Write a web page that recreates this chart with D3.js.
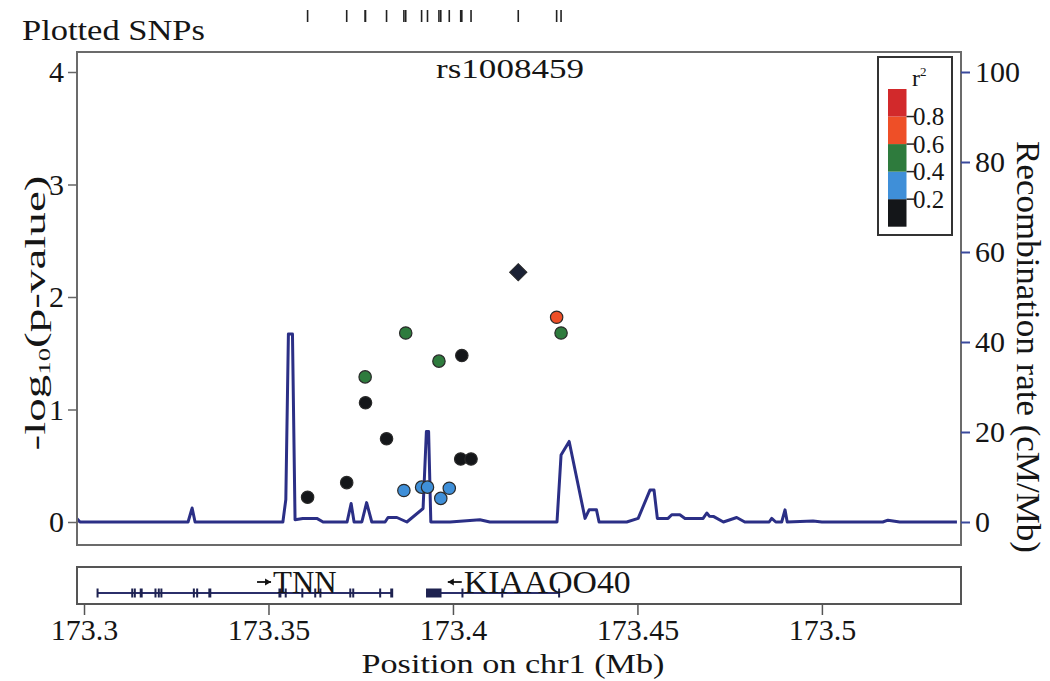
<!DOCTYPE html>
<html>
<head>
<meta charset="utf-8">
<script src="https://cdn.jsdelivr.net/npm/d3@7"></script>
<style>
  body { margin: 0; background: #fff; }
  svg { display: block; font-family: "Liberation Serif", "Times New Roman", serif; }
</style>
</head>
<body>
<svg id="chart" width="1050" height="681"></svg>
<script>
// ---- data ----
// SNPs around rs1008459 : position (Mb), -log10(p), r2 with the lead SNP
var snpPos  = [173.3606, 173.3712, 173.3762, 173.3763, 173.3820, 173.3867, 173.3872, 173.3915, 173.3931,
               173.3962, 173.3967, 173.3990, 173.4021, 173.4024, 173.4049, 173.4281, 173.4293];
var snpLogP = [0.22, 0.35, 1.29, 1.06, 0.74, 0.28, 1.68, 0.31, 0.31,
               1.43, 0.21, 0.30, 0.56, 1.48, 0.56, 1.82, 1.68];
var snpR2   = [0.1, 0.1, 0.5, 0.1, 0.1, 0.3, 0.5, 0.3, 0.3,
               0.5, 0.3, 0.3, 0.1, 0.1, 0.1, 0.7, 0.5];
var leadName = "rs1008459";
var leadPos = 173.4177;
var leadLogP = 2.22;

// recombination rate (cM/Mb)
var recPos = [173.2978, 173.2989, 173.3282, 173.3293, 173.3301, 173.3539, 173.3547, 173.3554, 173.3565,
              173.3572, 173.3593, 173.3631, 173.3648, 173.3713, 173.3724, 173.3732, 173.3753, 173.3766,
              173.3780, 173.3816, 173.3824, 173.3848, 173.3875, 173.3919, 173.3928, 173.3934, 173.3940,
              173.3992, 173.4073, 173.4100, 173.4282, 173.4293, 173.4315, 173.4358, 173.4369, 173.4389,
              173.4396, 173.4471, 173.4502, 173.4534, 173.4545, 173.4554, 173.4583, 173.4593, 173.4615,
              173.4629, 173.4678, 173.4688, 173.4695, 173.4707, 173.4733, 173.4769, 173.4791, 173.4857,
              173.4864, 173.4875, 173.4891, 173.4900, 173.4906, 173.4976, 173.5000, 173.5165, 173.5179,
              173.5211, 173.5366];
var recRate = [1.0, 0, 0, 3.1, 0, 0, 5, 41.8, 41.8,
               0.5, 0.8, 0.8, 0, 0, 4.1, 0, 0, 4.3,
               0, 0, 1.0, 1.0, 0, 3.0, 20.1, 20.1, 0,
               0, 0.5, 0, 0, 14.9, 17.9, 0.8, 2.7, 2.7,
               0, 0, 0.8, 7.1, 7.1, 0.8, 0.8, 1.6, 1.6,
               0.8, 0.8, 2.0, 1.3, 1.2, 0, 1.0, 0, 0,
               0.8, 0, 0, 2.7, 0, 0.2, 0, 0, 0.4,
               0, 0];

// genes
var geneNames  = ["TNN", "KIAAOO40"];
var geneStart  = [173.3036, 173.3927];
var geneEnd    = [173.3836, 173.4288];
var geneStrand = [1, -1];
var geneLabelAt = [173.3469, 173.3986];
var tnnExons = [[173.3034, 173.3038], [173.3128, 173.3131], [173.3135, 173.3138], [173.3151, 173.3159],
                [173.3191, 173.3194], [173.3200, 173.3203], [173.3207, 173.3210], [173.3295, 173.3298],
                [173.3304, 173.3307], [173.3337, 173.3345], [173.3527, 173.3535], [173.3544, 173.3547],
                [173.3589, 173.3592], [173.3624, 173.3628], [173.3638, 173.3642], [173.3719, 173.3723],
                [173.3727, 173.3730], [173.3800, 173.3804], [173.3830, 173.3838]];
var kiaaExons = [[173.3927, 173.3969], [173.4023, 173.4026], [173.4131, 173.4134], [173.4285, 173.4289]];
var geneExons = [tnnExons, kiaaExons];

// ticks
var xTicks = [173.3, 173.35, 173.4, 173.45, 173.5];
var yTicks = [0, 1, 2, 3, 4];
var recTicks = [0, 20, 40, 60, 80, 100];
var r2Breaks = [0.2, 0.4, 0.6, 0.8];
var r2Colors = ["#141619", "#3f8fd8", "#2e7b3d", "#ee4f27", "#d2292b"];

// ---- layout ----
var svg = d3.select("#chart");
var serif = '"Liberation Serif", "Times New Roman", serif';
var plot = {left: 77, right: 961, top: 52, bottom: 545};
var track = {top: 567, bottom: 604, lineY: 593};
var navy = "#2b2f86";

var x = d3.scaleLinear().domain([173.2981, 173.5377]).range([plot.left, plot.right]);
var y = d3.scaleLinear().domain([0, 4]).range([522, 72]);
var yRec = d3.scaleLinear().domain([0, 100]).range([522, 72]);
var color = d3.scaleThreshold().domain(r2Breaks).range(r2Colors);

svg.append("rect").attr("width", 1050).attr("height", 681).attr("fill", "#fff");

// stretch a text along its own direction to a given length
function stretch(text, len) {
  var w = text.node().getComputedTextLength();
  text.attr("transform", "scale(" + (len / w) + ",1)");
}

function label(tx, ty, rot, str, size, anchor, len) {
  var g = svg.append("g").attr("transform", "translate(" + tx + "," + ty + ") rotate(" + rot + ")");
  var t = g.append("text").attr("font-size", size).attr("font-family", serif)
    .attr("text-anchor", anchor).attr("fill", "#151515").text(str);
  if (len) stretch(t, len);
  return t;
}

// clip for the plot area
svg.append("clipPath").attr("id", "clip").append("rect")
  .attr("x", plot.left).attr("y", plot.top)
  .attr("width", plot.right - plot.left).attr("height", plot.bottom - plot.top);

// recombination line
var recData = recPos.map(function (p, i) { return {pos: p, rate: recRate[i]}; });
svg.append("path")
  .datum(recData)
  .attr("clip-path", "url(#clip)")
  .attr("fill", "none")
  .attr("stroke", navy)
  .attr("stroke-width", 3)
  .attr("stroke-linejoin", "round")
  .attr("d", d3.line().x(function (d) { return x(d.pos); }).y(function (d) { return yRec(d.rate); }));

// SNP points
var snps = snpPos.map(function (p, i) { return {pos: p, logp: snpLogP[i], r2: snpR2[i]}; });
svg.append("g").selectAll("circle")
  .data(snps)
  .enter().append("circle")
  .attr("cx", function (d) { return x(d.pos); })
  .attr("cy", function (d) { return y(d.logp); })
  .attr("r", 6.2)
  .attr("fill", function (d) { return color(d.r2); })
  .attr("stroke", "#2a2a2a")
  .attr("stroke-width", 1.2);

// lead SNP as a diamond
svg.append("path")
  .attr("d", d3.symbol().type(d3.symbolSquare).size(150)())
  .attr("transform", "translate(" + x(leadPos) + "," + y(leadLogP) + ") rotate(45)")
  .attr("fill", "#1b2134")
  .attr("stroke", "#2a2a2a")
  .attr("stroke-width", 1);

// frame
svg.append("rect")
  .attr("x", plot.left).attr("y", plot.top)
  .attr("width", plot.right - plot.left).attr("height", plot.bottom - plot.top)
  .attr("fill", "none").attr("stroke", "#6b6b6b").attr("stroke-width", 2);

// left axis
var gL = svg.append("g").attr("transform", "translate(" + plot.left + ",0)")
  .call(d3.axisLeft(y).tickValues(yTicks).tickSize(9).tickPadding(4).tickFormat(d3.format("d")));
gL.attr("font-size", 30).attr("font-family", serif);
gL.select(".domain").remove();
gL.selectAll("line").attr("stroke", "#666").attr("stroke-width", 1.5);
gL.selectAll("text").attr("fill", "#151515");

// right axis
var gR = svg.append("g").attr("transform", "translate(" + plot.right + ",0)")
  .call(d3.axisRight(yRec).tickValues(recTicks).tickSize(9).tickPadding(5));
gR.attr("font-size", 30).attr("font-family", serif);
gR.select(".domain").remove();
gR.selectAll("line").attr("stroke", "#3b4a9c").attr("stroke-width", 2);
gR.selectAll("text").attr("fill", "#151515");

// plotted SNPs rug
svg.append("g").selectAll("line")
  .data(snpPos.concat([leadPos]))
  .enter().append("line")
  .attr("x1", function (d) { return x(d); }).attr("x2", function (d) { return x(d); })
  .attr("y1", 10).attr("y2", 22)
  .attr("stroke", "#222").attr("stroke-width", 1.6);

label(22, 40, 0, "Plotted SNPs", 30, "start", 183);
label(510, 78, 0, leadName, 27, "middle", 148);

// y titles
var yt = svg.append("g").attr("transform", "translate(45,313) rotate(-90)")
  .append("text").attr("font-size", 30).attr("font-family", serif)
  .attr("text-anchor", "middle").attr("fill", "#151515");
yt.append("tspan").text("-log");
yt.append("tspan").attr("font-size", 17).attr("dy", 5).text("10");
yt.append("tspan").attr("dy", -5).text("(p-value)");
stretch(yt, 275);

label(1017, 347, 90, "Recombination rate (cM/Mb)", 34, "middle", 412);

// legend
var lg = svg.append("g");
lg.append("rect").attr("x", 878).attr("y", 57).attr("width", 74).attr("height", 178)
  .attr("fill", "#fff").attr("stroke", "#333").attr("stroke-width", 2);
var ly = d3.scaleLinear().domain([0, 1]).range([226.7, 89]);
var bins = [0].concat(r2Breaks);
lg.selectAll(".bin")
  .data(bins)
  .enter().append("rect")
  .attr("x", 888).attr("width", 18.5)
  .attr("y", function (d, i) { return ly(i < bins.length - 1 ? bins[i + 1] : 1); })
  .attr("height", function (d, i) { return ly(d) - ly(i < bins.length - 1 ? bins[i + 1] : 1); })
  .attr("fill", function (d, i) { return r2Colors[i]; });
lg.selectAll(".tk")
  .data(r2Breaks)
  .enter().append("line")
  .attr("x1", 906.5).attr("x2", 914)
  .attr("y1", function (d) { return ly(d); }).attr("y2", function (d) { return ly(d); })
  .attr("stroke", "#222").attr("stroke-width", 1.5);
lg.selectAll(".tl")
  .data(r2Breaks)
  .enter().append("text")
  .attr("x", 913).attr("y", function (d) { return ly(d); })
  .attr("dy", "0.35em")
  .attr("font-size", 25).attr("font-family", serif).attr("fill", "#151515")
  .text(function (d) { return d3.format(".1f")(d); });
var rt = lg.append("text").attr("x", 912).attr("y", 86)
  .attr("font-size", 24).attr("font-family", serif).attr("fill", "#151515");
rt.append("tspan").text("r");
rt.append("tspan").attr("font-size", 13).attr("dy", -10).text("2");

// gene track
svg.append("rect")
  .attr("x", plot.left).attr("y", track.top)
  .attr("width", plot.right - plot.left).attr("height", track.bottom - track.top)
  .attr("fill", "#fff").attr("stroke", "#555").attr("stroke-width", 2);

geneNames.forEach(function (name, i) {
  var g = svg.append("g");
  g.append("line")
    .attr("x1", x(geneStart[i])).attr("x2", x(geneEnd[i]))
    .attr("y1", track.lineY).attr("y2", track.lineY)
    .attr("stroke", "#2b2f6a").attr("stroke-width", 2);
  g.selectAll("rect")
    .data(geneExons[i])
    .enter().append("rect")
    .attr("x", function (d) { return x(d[0]); })
    .attr("width", function (d) { return Math.max(2, x(d[1]) - x(d[0])); })
    .attr("y", track.lineY - 4.5).attr("height", 9)
    .attr("fill", "#1e2250");
  // strand arrow + name
  var ax = x(geneLabelAt[i]);
  var ay = track.lineY - 11;
  var a0 = geneStrand[i] > 0 ? ax : ax + 14;
  var a1 = geneStrand[i] > 0 ? ax + 14 : ax;
  var dir = geneStrand[i];
  g.append("line").attr("x1", a0).attr("x2", a1).attr("y1", ay).attr("y2", ay)
    .attr("stroke", "#111").attr("stroke-width", 1.8);
  g.append("path")
    .attr("d", "M" + a1 + "," + ay + "l" + (-6 * dir) + ",-3.5v7z")
    .attr("fill", "#111");
  var t = svg.append("g").attr("transform", "translate(" + (ax + 16) + "," + track.lineY + ")")
    .append("text").attr("font-size", 31).attr("font-family", serif).attr("fill", "#151515").text(name);
  if (i === 1) stretch(t, 167);
});

// x axis under the gene track
var gX = svg.append("g").attr("transform", "translate(0," + track.bottom + ")")
  .call(d3.axisBottom(x).tickValues(xTicks).tickSize(11).tickPadding(4).tickFormat(function (d) { return String(d); }));
gX.attr("font-size", 30).attr("font-family", serif);
gX.select(".domain").remove();
gX.selectAll("line").attr("stroke", "#555").attr("stroke-width", 1.5);
gX.selectAll("text").attr("fill", "#151515");

label(513, 673, 0, "Position on chr1 (Mb)", 28, "middle", 303);
</script>
</body>
</html>
